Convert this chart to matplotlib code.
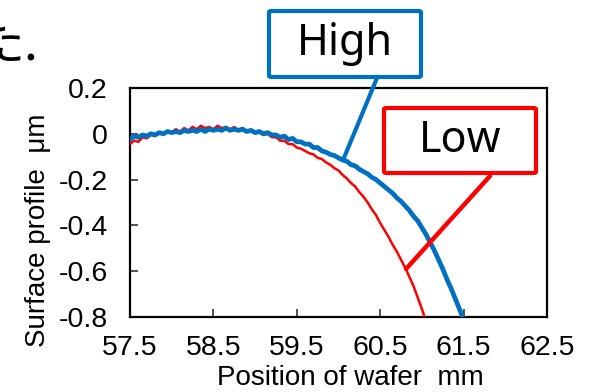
import matplotlib
matplotlib.use("Agg")
import matplotlib.pyplot as plt
from matplotlib.patches import FancyBboxPatch

plt.rcParams['axes.unicode_minus'] = False
plt.rcParams['font.family'] = ['Liberation Sans', 'DejaVu Sans']

# ---- data ----
low_x = [57.50, 57.55, 57.60, 57.65, 57.70, 57.75, 57.80, 57.85, 57.90, 57.95,
         58.00, 58.05, 58.10, 58.15, 58.20, 58.25, 58.30, 58.35, 58.40, 58.45,
         58.50, 58.55, 58.60, 58.65, 58.70, 58.75, 58.80, 58.85, 58.90, 58.95,
         59.00, 59.05, 59.10, 59.15, 59.20, 59.25, 59.30, 59.35, 59.40, 59.45,
         59.50, 59.55, 59.60, 59.65, 59.70, 59.75, 59.80, 59.85, 59.90, 59.95,
         60.00, 60.05, 60.10, 60.15, 60.20, 60.25, 60.30, 60.35, 60.40, 60.45,
         60.50, 60.55, 60.60, 60.65, 60.70, 60.75, 60.80, 60.85, 60.90, 60.95,
         61.00, 61.05, 61.10]
low_y = [-0.045, -0.030, -0.035, -0.015, -0.020, -0.005, -0.010, 0.005, 0.000, 0.010,
         0.005, 0.020, 0.010, 0.025, 0.015, 0.030, 0.020, 0.035, 0.025, 0.030,
         0.020, 0.035, 0.025, 0.030, 0.020, 0.030, 0.015, 0.025, 0.010, 0.015,
         0.005, 0.010, -0.005, 0.000, -0.015, -0.015, -0.030, -0.030, -0.045, -0.045,
         -0.060, -0.065, -0.075, -0.085, -0.090, -0.105, -0.110, -0.125, -0.135, -0.150,
         -0.160, -0.180, -0.195, -0.215, -0.230, -0.255, -0.275, -0.300, -0.330, -0.355,
         -0.390, -0.420, -0.450, -0.485, -0.515, -0.550, -0.585, -0.625, -0.665, -0.715,
         -0.765, -0.820, -0.870]

high_x = [57.50, 57.55, 57.60, 57.65, 57.70, 57.75, 57.80, 57.85, 57.90, 57.95,
          58.00, 58.05, 58.10, 58.15, 58.20, 58.25, 58.30, 58.35, 58.40, 58.45,
          58.50, 58.55, 58.60, 58.65, 58.70, 58.75, 58.80, 58.85, 58.90, 58.95,
          59.00, 59.05, 59.10, 59.15, 59.20, 59.25, 59.30, 59.35, 59.40, 59.45,
          59.50, 59.55, 59.60, 59.65, 59.70, 59.75, 59.80, 59.85, 59.90, 59.95,
          60.00, 60.05, 60.10, 60.15, 60.20, 60.25, 60.30, 60.35, 60.40, 60.45,
          60.50, 60.55, 60.60, 60.65, 60.70, 60.75, 60.80, 60.85, 60.90, 60.95,
          61.00, 61.05, 61.10, 61.15, 61.20, 61.25, 61.30, 61.35, 61.40, 61.45,
          61.50, 61.55, 61.60]
high_y = [-0.025, -0.010, -0.015, -0.005, -0.010, 0.000, -0.005, 0.005, 0.000, 0.010,
          0.005, 0.010, 0.005, 0.015, 0.010, 0.015, 0.010, 0.020, 0.010, 0.020,
          0.015, 0.020, 0.015, 0.025, 0.015, 0.020, 0.015, 0.020, 0.010, 0.015,
          0.005, 0.010, 0.000, 0.005, -0.005, -0.005, -0.015, -0.010, -0.025, -0.020,
          -0.035, -0.035, -0.045, -0.045, -0.060, -0.060, -0.075, -0.080, -0.090, -0.095,
          -0.105, -0.115, -0.120, -0.135, -0.140, -0.155, -0.165, -0.175, -0.190, -0.200,
          -0.215, -0.230, -0.245, -0.260, -0.280, -0.295, -0.315, -0.335, -0.360, -0.380,
          -0.410, -0.440, -0.475, -0.510, -0.550, -0.590, -0.635, -0.675, -0.720, -0.765,
          -0.810, -0.855, -0.900]

x_ticks = [57.5, 58.5, 59.5, 60.5, 61.5, 62.5]
x_tick_labels = ["57.5", "58.5", "59.5", "60.5", "61.5", "62.5"]
y_ticks = [0.2, 0.0, -0.2, -0.4, -0.6, -0.8]
y_tick_labels = ["0.2", "0", "-0.2", "-0.4", "-0.6", "-0.8"]

high_label = "High"
low_label = "Low"
high_point = (60.06, -0.11)
low_point = (60.81, -0.59)

BLUE = "#0070C0"
RED = "#FF0000"

W, H = 594, 392
fig = plt.figure(figsize=(W / 100, H / 100), dpi=100)

def fx(px):
    return px / W

def fy(py):
    return (H - py) / H

ax = fig.add_axes([fx(130), fy(317), fx(547) - fx(130), fy(88) - fy(317)])
ax.plot(low_x, low_y, color=RED, lw=1.8, zorder=3)
ax.plot(high_x, high_y, color=BLUE, lw=3.4, zorder=4)

ax.set_xlim(57.5, 62.5)
ax.set_ylim(-0.8, 0.2)
ax.set_xticks(x_ticks)
ax.set_xticklabels(x_tick_labels)
ax.set_yticks(y_ticks)
ax.set_yticklabels(y_tick_labels)
ax.tick_params(direction='in', length=6, width=1.2, labelsize=20.5, color='#333333')
ax.tick_params(axis='x', pad=13)
ax.tick_params(axis='y', pad=16)
for s in ax.spines.values():
    s.set_linewidth(1.6)
    s.set_color('black')

fig.text(fx(350), fy(378), "Position of wafer  mm", ha='center', va='center', fontsize=20)
fig.text(fx(38), fy(230), "Surface profile  μm", ha='center', va='center',
         rotation=90, fontsize=20)

# Leader lines
ax.annotate('', xy=high_point, xycoords='data', xytext=(377, H - 78), textcoords='figure pixels',
            arrowprops=dict(arrowstyle='-', color=BLUE, lw=3, shrinkA=0, shrinkB=0),
            annotation_clip=False, zorder=6)
ax.annotate('', xy=low_point, xycoords='data', xytext=(490, H - 176), textcoords='figure pixels',
            arrowprops=dict(arrowstyle='-', color=RED, lw=3.2, shrinkA=0, shrinkB=0),
            annotation_clip=False, zorder=6)

# Boxes
def box(x0, y0, x1, y1, color, label):
    p = FancyBboxPatch((fx(x0), fy(y1)), fx(x1) - fx(x0), fy(y0) - fy(y1),
                       boxstyle="round,pad=0,rounding_size=0.004",
                       transform=fig.transFigure, facecolor='white', edgecolor=color,
                       lw=3, zorder=10)
    fig.patches.append(p)
    fig.text(fx((x0 + x1) / 2), fy((y0 + y1) / 2), label, ha='center', va='center',
             fontsize=31, family=['Noto Sans', 'DejaVu Sans'], zorder=11)

box(269, 11, 421, 77, BLUE, high_label)
box(384, 108, 536, 173, RED, low_label)

# cropped caption fragment at top-left
fig.text(-25 / W, fy(60), "た.", ha='left', va='baseline', fontsize=36,
         family=['Noto Sans CJK JP', 'DejaVu Sans'])

fig.savefig("out.png", dpi=100)
